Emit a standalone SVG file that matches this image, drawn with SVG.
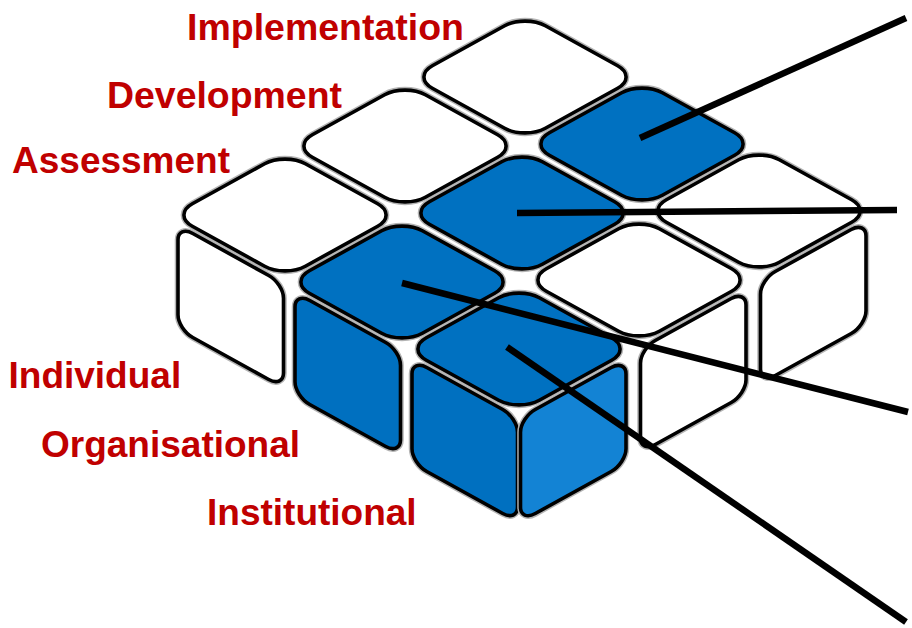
<svg xmlns="http://www.w3.org/2000/svg" xmlns:xlink="http://www.w3.org/1999/xlink" width="912" height="628" viewBox="0 0 912 628">
<style>
.lbl{font-family:"Liberation Sans",Arial,sans-serif;font-weight:bold;font-size:37px;fill:#C00000}
.halo{fill:none;stroke:#b4b4b4;stroke-width:6.5}
.w{fill:#ffffff;stroke:#000;stroke-width:3.6}
.bt{fill:#0071C1;stroke:#000;stroke-width:3.6}
.bl{fill:#0070C0;stroke:#000;stroke-width:3.6}
.br{fill:#1383D4;stroke:#000;stroke-width:3.6}
.con{stroke:#000;stroke-width:6.5;stroke-linecap:butt;fill:none}
</style>
<defs>
<rect id="tf" x="0" y="0" width="100" height="100" rx="18" ry="18" vector-effect="non-scaling-stroke"/>
<rect id="sf" x="0" y="0" width="100" height="100" rx="14" ry="14" vector-effect="non-scaling-stroke"/>
</defs>
<rect width="912" height="628" fill="#ffffff"/>

<!-- Cube (0,2) Individual / Implementation -->
<g id="cube-individual-implementation">
<use href="#tf" class="halo" transform="matrix(1.13,-0.625,1.13,0.625,412,77)"/>
<use href="#tf" class="w" transform="matrix(1.13,-0.625,1.13,0.625,412,77)"/>
</g>
<!-- Cube (1,2) Organisational / Implementation -->
<g id="cube-organisational-implementation">
<use href="#tf" class="halo" transform="matrix(1.13,-0.625,1.13,0.625,529,144)"/>
<use href="#tf" class="bt" transform="matrix(1.13,-0.625,1.13,0.625,529,144)"/>
</g>
<!-- Cube (0,1) Individual / Development -->
<g id="cube-individual-development">
<use href="#tf" class="halo" transform="matrix(1.13,-0.625,1.13,0.625,292,146)"/>
<use href="#tf" class="w" transform="matrix(1.13,-0.625,1.13,0.625,292,146)"/>
</g>
<!-- Cube (2,2) Institutional / Implementation -->
<g id="cube-institutional-implementation">
<use href="#tf" class="halo" transform="matrix(1.13,-0.625,1.13,0.625,646,211)"/>
<use href="#tf" class="w" transform="matrix(1.13,-0.625,1.13,0.625,646,211)"/>
<use href="#sf" class="halo" transform="matrix(1.055,-0.5834,0,1.04,760.5,279.7)"/>
<use href="#sf" class="w" transform="matrix(1.055,-0.5834,0,1.04,760.5,279.7)"/>
</g>
<!-- Cube (1,1) Organisational / Development -->
<g id="cube-organisational-development">
<use href="#tf" class="halo" transform="matrix(1.13,-0.625,1.13,0.625,409,213)"/>
<use href="#tf" class="bt" transform="matrix(1.13,-0.625,1.13,0.625,409,213)"/>
</g>
<!-- Cube (0,0) Individual / Assessment -->
<g id="cube-individual-assessment">
<use href="#tf" class="halo" transform="matrix(1.13,-0.625,1.13,0.625,172,215)"/>
<use href="#tf" class="w" transform="matrix(1.13,-0.625,1.13,0.625,172,215)"/>
<use href="#sf" class="halo" transform="matrix(1.055,0.5834,0,1.04,178,225.3)"/>
<use href="#sf" class="w" transform="matrix(1.055,0.5834,0,1.04,178,225.3)"/>
</g>
<!-- Cube (2,1) Institutional / Development -->
<g id="cube-institutional-development">
<use href="#tf" class="halo" transform="matrix(1.13,-0.625,1.13,0.625,526,280)"/>
<use href="#tf" class="w" transform="matrix(1.13,-0.625,1.13,0.625,526,280)"/>
<use href="#sf" class="halo" transform="matrix(1.055,-0.5834,0,1.04,640.5,348.7)"/>
<use href="#sf" class="w" transform="matrix(1.055,-0.5834,0,1.04,640.5,348.7)"/>
</g>
<!-- Cube (1,0) Organisational / Assessment -->
<g id="cube-organisational-assessment">
<use href="#tf" class="halo" transform="matrix(1.13,-0.625,1.13,0.625,289,282)"/>
<use href="#tf" class="bt" transform="matrix(1.13,-0.625,1.13,0.625,289,282)"/>
<use href="#sf" class="halo" transform="matrix(1.055,0.5834,0,1.04,295,292.3)"/>
<use href="#sf" class="bl" transform="matrix(1.055,0.5834,0,1.04,295,292.3)"/>
</g>
<!-- Cube (2,0) Institutional / Assessment -->
<g id="cube-institutional-assessment">
<use href="#tf" class="halo" transform="matrix(1.13,-0.625,1.13,0.625,406,349)"/>
<use href="#tf" class="bt" transform="matrix(1.13,-0.625,1.13,0.625,406,349)"/>
<use href="#sf" class="halo" transform="matrix(1.055,0.5834,0,1.04,412,359.3)"/>
<use href="#sf" class="bl" transform="matrix(1.055,0.5834,0,1.04,412,359.3)"/>
<use href="#sf" class="halo" transform="matrix(1.055,-0.5834,0,1.04,520.5,417.7)"/>
<use href="#sf" class="br" transform="matrix(1.055,-0.5834,0,1.04,520.5,417.7)"/>
</g>

<g id="labels">
<text class="lbl" x="187" y="40" textLength="277" lengthAdjust="spacingAndGlyphs">Implementation</text>
<text class="lbl" x="107" y="108" textLength="235" lengthAdjust="spacingAndGlyphs">Development</text>
<text class="lbl" x="12" y="173">Assessment</text>
<text class="lbl" x="8.5" y="388">Individual</text>
<text class="lbl" x="41" y="457">Organisational</text>
<text class="lbl" x="207" y="525">Institutional</text>
</g>

<g id="connectors">
<line class="con" x1="640" y1="138" x2="906" y2="18"/>
<line class="con" x1="517" y1="213" x2="897" y2="210"/>
<line class="con" x1="402" y1="283" x2="908" y2="412"/>
<line class="con" x1="507" y1="347" x2="906" y2="622"/>
</g>
</svg>
